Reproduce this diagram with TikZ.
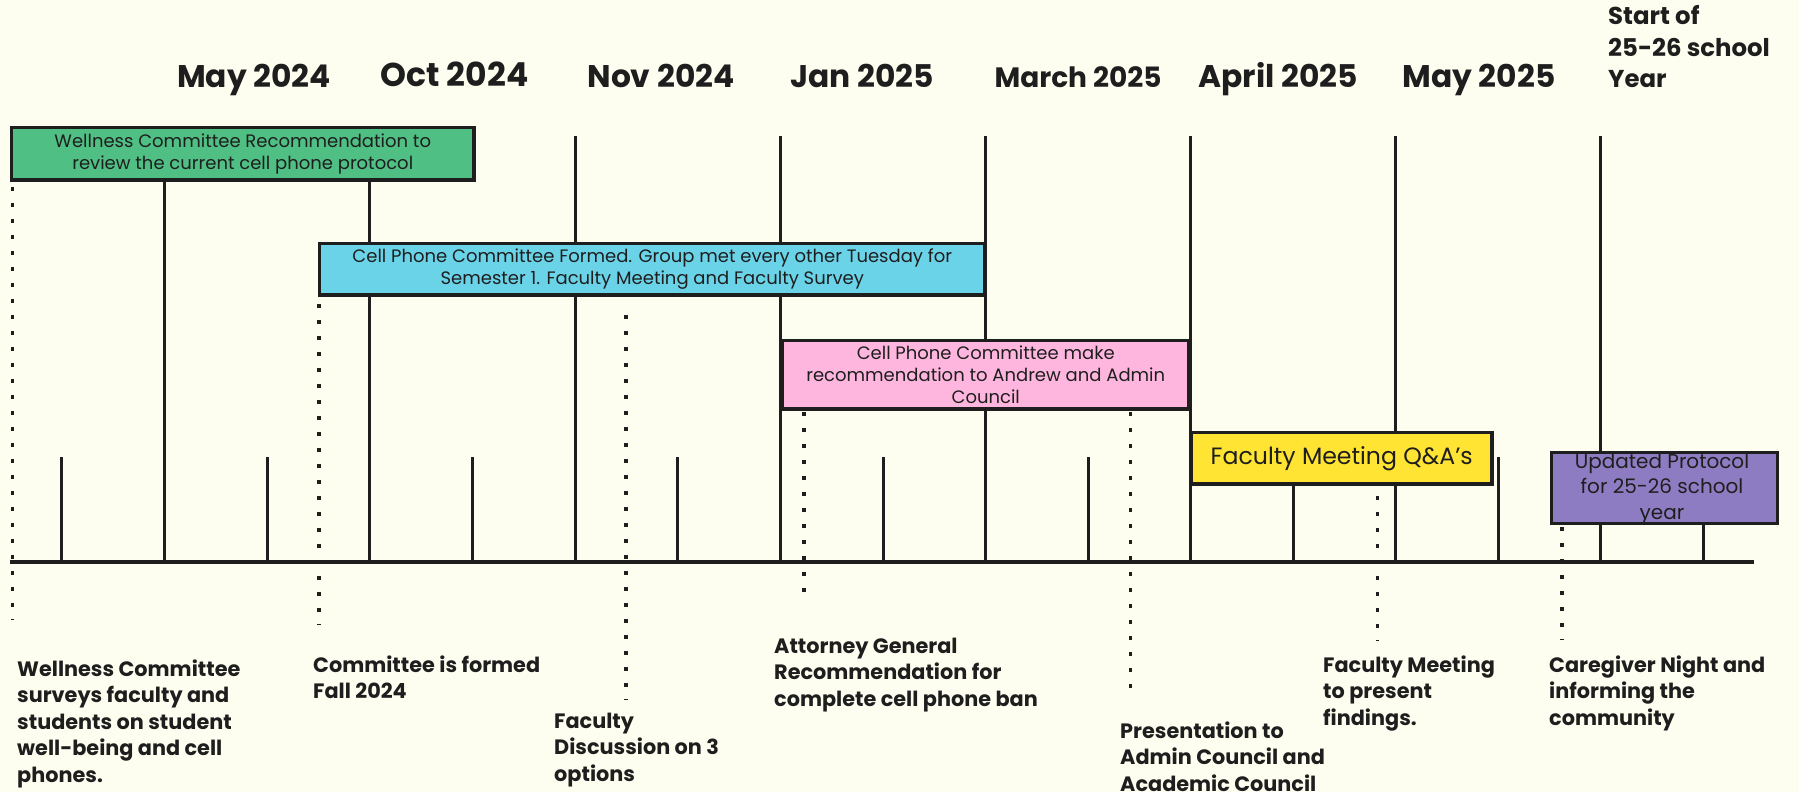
\documentclass[tikz,border=0pt]{standalone}
\usepackage{fontspec}
\setmainfont{Poppins}

\definecolor{paper}{HTML}{FEFEF0}
\definecolor{ink}{HTML}{1E1E1E}
\definecolor{wellgreen}{HTML}{4FBF84}
\definecolor{phonecyan}{HTML}{6AD3E8}
\definecolor{recpink}{HTML}{FFB6DE}
\definecolor{qayellow}{HTML}{FFE433}
\definecolor{protopurple}{HTML}{8E7CC3}

\tikzset{
  monthtick/.style={draw=ink, line width=3pt},
  dotline/.style={draw=ink, line width=3.5pt, dash pattern=on 3.5pt off 12.5pt},
  phasebox/.style={draw=ink, line width=3.5pt, inner sep=0pt, anchor=north west,
    align=center, text=ink, font=\fontsize{18}{22}\selectfont},
  month/.style={anchor=base, inner sep=0pt, text=ink, font=\bfseries\fontsize{31.3}{36}\selectfont},
  event/.style={anchor=base west, align=left, inner sep=0pt, text=ink,
    font=\bfseries\fontsize{20.8}{26.5}\selectfont},
}

\begin{document}
\begin{tikzpicture}[x=1pt,y=-1pt]

\useasboundingbox (0,0) rectangle (1799,792);
\fill[paper] (0,0) rectangle (1799,792);

% month ticks and half-month ticks
\foreach \x in {164,369.5,575,780,985,1190,1395,1600}
  \draw[monthtick] (\x,136) -- (\x,562);
\foreach \x in {61.5,267,472,677.5,883,1088,1293,1498,1703.5}
  \draw[monthtick] (\x,457) -- (\x,562);

% time axis
\draw[ink, line width=4pt] (10,562) -- (1754,562);

% month labels
\node[month] (may24) at (254,88) {May 2024};
\node[month, font=\bfseries\fontsize{33}{36}\selectfont] (oct24) at (454.5,87) {Oct 2024};
\node[month] (nov24) at (661,88) {Nov 2024};
\node[month] (jan25) at (862,88) {Jan 2025};
\node[month, font=\bfseries\fontsize{28}{36}\selectfont] (mar25) at (1078,88) {March 2025};
\node[month] (apr25) at (1278,88) {April 2025};
\node[month] (may25) at (1479,88) {May 2025};
% last line sits on the month baseline
\node[month, anchor=base west, align=left, font=\bfseries\fontsize{24.4}{31.5}\selectfont]
  (start) at (1608,88) {Start of\\25-26 school\\Year};

% phase boxes
\node[phasebox, fill=wellgreen, minimum width=462.5, minimum height=52.5]
  (wellness) at (9.75,125.75) {Wellness Committee Recommendation to\\review the current cell phone protocol};
\node[phasebox, fill=phonecyan, minimum width=665.5, minimum height=51.5]
  (formed) at (317.75,241.75) {Cell Phone Committee Formed. Group met every other Tuesday for\\Semester 1. Faculty Meeting and Faculty Survey};
\node[phasebox, fill=recpink, minimum width=406.5, minimum height=68.5]
  (recommend) at (780.75,338.75) {Cell Phone Committee make\\recommendation to Andrew and Admin\\Council};
\node[phasebox, fill=qayellow, minimum width=300.5, minimum height=51.5,
  font=\fontsize{23.6}{28}\selectfont] (qanda) at (1189.75,430.75) {Faculty Meeting Q\&A’s};
\node[phasebox, fill=protopurple, minimum width=226, minimum height=71] (protocol) at (1549.5,450.5) {};
\node[anchor=base, inner sep=0pt, align=center, text=ink, font=\fontsize{20}{25.5}\selectfont]
  (protocoltxt) at (1662,519) {Updated Protocol\\for 25-26 school\\year};

% events below the axis (placed by the baseline of their last line)
\node[event] (surveys) at (17,782) {Wellness Committee\\surveys faculty and\\students on student\\well-being and cell\\phones.};
\node[event] (committee) at (313,698.5) {Committee is formed\\Fall 2024};
\node[event] (discussion) at (554,781) {Faculty\\Discussion on 3\\options};
\node[event] (attorney) at (774,706) {Attorney General\\Recommendation for\\complete cell phone ban};
\node[event] (presentation) at (1120,791) {Presentation to\\Admin Council and\\Academic Council};
\node[event] (findings) at (1323,725) {Faculty Meeting\\to present\\findings.};
\node[event] (caregiver) at (1549,725) {Caregiver Night and\\informing the\\community};

% dotted leaders
\coordinate (d1) at (12.5,187);
\coordinate (d2) at (319,304);
\coordinate (d3) at (626,315);
\coordinate (d4) at (804,412);
\coordinate (d5) at (1130.5,412);
\coordinate (d6) at (1377.5,496);
\coordinate (d7) at (1562,527);
\draw[dotline] (d1) -- (12.5,620);
\draw[dotline] (d2) -- (319,625);
\draw[dotline] (d3) -- (626,700);
\draw[dotline] (d4) -- (804,603);
\draw[dotline] (d5) -- (1130.5,699);
\draw[dotline] (d6) -- (1377.5,641);
\draw[dotline] (d7) -- (1562,640);

\end{tikzpicture}
\end{document}
